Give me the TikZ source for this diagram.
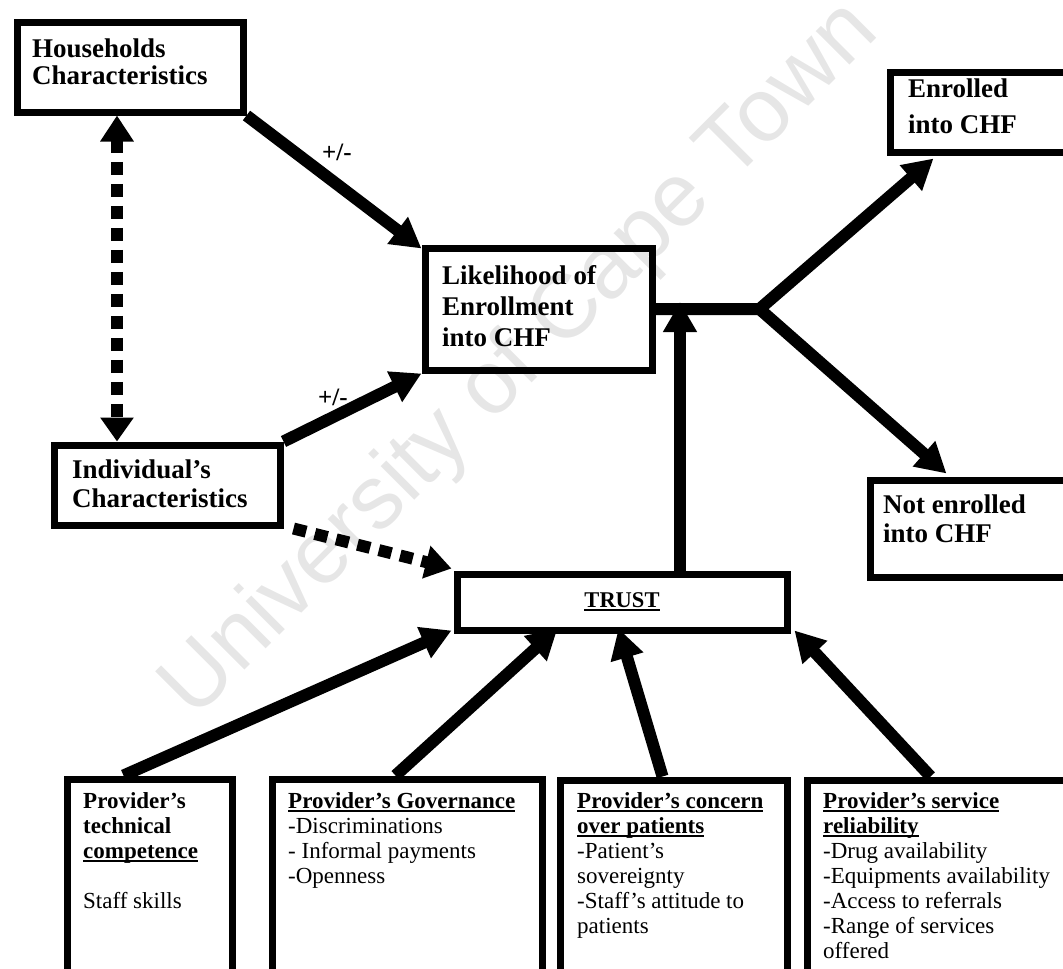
\documentclass[tikz,border=0pt]{standalone}
\usepackage{fontspec}
\setmainfont{Liberation Serif}
\setsansfont{Liberation Sans}
\usetikzlibrary{arrows.meta,calc}
\newsavebox{\myulbox}
\newcommand{\myul}[1]{\sbox{\myulbox}{#1}\rlap{\rule[-3.5pt]{\wd\myulbox}{1.8pt}}\usebox{\myulbox}}
\definecolor{wmgray}{RGB}{230,230,230}
\begin{document}
\begin{tikzpicture}[x=1pt,y=-1pt,
  box/.style={draw=black,line width=7pt,rectangle,inner sep=0pt,anchor=north west},
  lbl/.style={anchor=north west,inner sep=0pt,align=left},
  bigf/.style={font=\fontsize{27}{#1}\selectfont\bfseries},
  sub/.style={anchor=north west,inner sep=0pt,align=left,font=\fontsize{23}{25}\selectfont},
  pm/.style={inner sep=0pt,font=\fontsize{25}{25}\selectfont\bfseries},
  conn/.style={draw=black,line width=12pt,-{Triangle[length=30pt,width=32pt]}},
  dconn/.style={draw=black,line width=12pt,dash pattern=on 13pt off 9pt},
  ]
\useasboundingbox (0,0) rectangle (1063,969);
\clip (0,0) rectangle (1063,969);
% watermark
\node[rotate=45,text=wmgray,inner sep=0pt,font=\fontsize{90}{90}\selectfont\sffamily] (wm) at (521,361) {University of Cape Town};
% boxes
\node[box,minimum width=226pt,minimum height=90pt] (hh) at (13.5,18.5) {};
\node[box,minimum width=226pt,minimum height=80pt] (ind) at (50.5,441.5) {};
\node[box,minimum width=227pt,minimum height=122pt] (lk) at (421.5,244.5) {};
\node[box,minimum width=330pt,minimum height=56pt,font=\fontsize{22.5}{25}\selectfont\bfseries] (tr) at (453.5,570.5) {\myul{TRUST}};
\node[box,minimum width=230pt,minimum height=80pt] (en) at (886.5,68.5) {};
\node[box,minimum width=250pt,minimum height=97pt] (ne) at (866.5,476.5) {};
\node[box,minimum width=165pt,minimum height=240pt] (b1) at (63.5,775.5) {};
\node[box,minimum width=270pt,minimum height=240pt] (b2) at (268.5,775.5) {};
\node[box,minimum width=227pt,minimum height=240pt] (b3) at (556.5,776.5) {};
\node[box,minimum width=300pt,minimum height=240pt] (b4) at (803.5,776.5) {};
% texts
\node[lbl,bigf=27] (hht) at (32,39) {Households\\Characteristics};
\node[lbl,bigf=29] (indt) at (72,460) {Individual's\\Characteristics};
\node[lbl,bigf=31] (lkt) at (442,265) {Likelihood of\\Enrollment\\into CHF};
\node[lbl,bigf=36] (ent) at (908,79) {Enrolled\\into CHF};
\node[lbl,bigf=29] (net) at (883,495) {Not enrolled\\into CHF};
\node[sub] (b1t) at (83,792) {\textbf{Provider's}\\\textbf{technical}\\\textbf{\myul{competence}}\\[25pt]Staff skills};
\node[sub] (b2t) at (288,792) {\textbf{\myul{Provider's Governance}}\\-Discriminations\\- Informal payments\\-Openness};
\node[sub] (b3t) at (577,792) {\textbf{\myul{Provider's concern}}\\\textbf{\myul{over patients}}\\-Patient's\\sovereignty\\-Staff's attitude to\\patients};
\node[sub] (b4t) at (823,792) {\textbf{\myul{Provider's service}}\\\textbf{\myul{reliability}}\\-Drug availability\\-Equipments availability\\-Access to referrals\\-Range of services\\offered};
\node[pm] (pm1) at (337,152) {+/-};
\node[pm] (pm2) at (333,397) {+/-};
% helper coordinates
\coordinate (vx) at (117,0);
\coordinate (tx) at (680,0);
\coordinate (br) at ($(lk.east)+(104,0)$);
% connectors
\draw[conn] (hh.south east) -- ($(lk.north west)+(0,4)$);
\draw[conn] (ind.north east) -- (lk.south west);
\draw[dconn,{Triangle[length=26pt,width=32pt]}-{Triangle[length=24pt,width=32pt]}] (vx |- hh.south) -- (vx |- ind.north);
\draw[dconn,-{Triangle[length=26pt,width=32pt]}] ($(ind.south east)+(10,0)$) -- ($(tr.north west)+(-2,-2)$);
\draw[conn,line join=miter] (lk.east) -- (br) -- ($(en.south west)+(47,3)$);
\draw[conn,line cap=round] (br) -- ($(ne.north west)+(80,-3)$);
\draw[conn] (tx |- tr.north) -- ($(tx |- lk.east)+(0,-7)$);
\draw[conn] ($(b1.north west)+(60,0)$) -- ($(tr.south west)+(-2,-3)$);
\draw[conn] ($(b2.north west)+(127,0)$) -- ($(tr.south west)+(104,-5)$);
\draw[conn] ($(b3.north west)+(106,0)$) -- ($(tr.south west)+(165,-5)$);
\draw[conn] ($(b4.north west)+(127,0)$) -- ($(tr.south east)+(4,-3)$);
\end{tikzpicture}
\end{document}
